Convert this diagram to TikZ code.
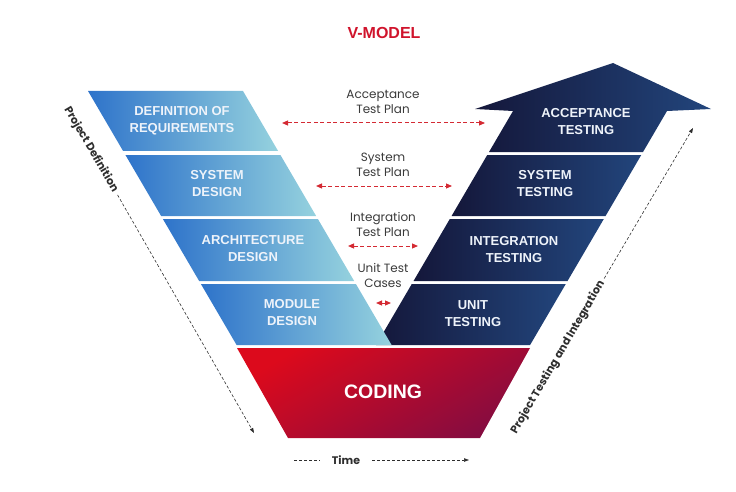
\documentclass[tikz,border=0pt]{standalone}
\usepackage{fontspec}
\setmainfont{Liberation Sans}
\newfontfamily\popfont{Poppins}
\usetikzlibrary{arrows.meta}

\definecolor{vred}{HTML}{D0142C}
\definecolor{planred}{HTML}{D42A33}
\definecolor{plangray}{HTML}{3A3A3A}
\definecolor{phasegray}{HTML}{2E2E2E}
\definecolor{lblue}{HTML}{2E73CA}
\definecolor{lmid}{HTML}{4092D8}
\definecolor{llight}{HTML}{95D2DE}
\definecolor{dnavy}{HTML}{14173A}
\definecolor{dmid}{HTML}{1A2957}
\definecolor{dblue}{HTML}{22457C}
\definecolor{cred}{HTML}{DC0A1C}
\definecolor{ccrim}{HTML}{860C40}
\definecolor{bandwhite}{HTML}{EEF3FA}

\tikzset{
	lightband/.style={left color=lblue, middle color=lmid, right color=llight},
	darkband/.style={left color=dnavy, middle color=dmid, right color=dblue},
	codeblock/.style={top color=cred, middle color=cred!85!ccrim, bottom color=ccrim, shading angle=30},
	band text/.style={text=bandwhite, font=\bfseries\fontsize{13}{17}\selectfont, align=center, inner sep=0pt},
	plan text/.style={text=plangray, font=\popfont\fontsize{12}{15}\selectfont, align=center, inner sep=0pt},
	plan arrow/.style={draw=planred, line width=1pt, dash pattern=on 4pt off 2.5pt, {Triangle[length=6pt,width=5pt]}-{Triangle[length=6pt,width=5pt]}},
	phase text/.style={text=phasegray, font=\popfont\bfseries\fontsize{11}{13}\selectfont, inner xsep=4pt},
	phase line/.style={draw=phasegray, line width=0.6pt, dash pattern=on 3pt off 2pt},
	phase arrow/.style={phase line, -{Triangle[length=5pt,width=3.5pt]}},
}

\begin{document}
\begin{tikzpicture}[x=1pt, y=-1pt]
	\useasboundingbox (0,0) rectangle (736,492);

	\shade[darkband] (489,152) -- (513,111) -- (475,109) -- (613,63) -- (711,109) -- (667,111) -- (643,152) -- cycle;
	\foreach \t/\b in {155/216, 219/281, 284/345}
		\shade[darkband] ({489-0.585*(\t-152)},\t) -- ({643-0.585*(\t-152)},\t) -- ({643-0.585*(\b-152)},\b) -- ({489-0.585*(\b-152)},\b) -- cycle;

	\foreach \t/\b in {91/151, 155/216, 219/281, 284/345}
		\shade[lightband] ({88+0.585*(\t-91)},\t) -- ({243+0.585*(\t-91)},\t) -- ({243+0.585*(\b-91)},\b) -- ({88+0.585*(\b-91)},\b) -- cycle;

	\shade[codeblock] (237,348) -- (530,348) -- (480,438) -- (288,438) -- cycle;

	\node[text=vred, font=\bfseries\fontsize{16}{18}\selectfont] (title) at (384,33) {V-MODEL};

	\node[band text] (req) at (182,121) {DEFINITION OF\\REQUIREMENTS};
	\node[band text] (sysd) at (217,184) {SYSTEM\\DESIGN};
	\node[band text] (arch) at (253,249) {ARCHITECTURE\\DESIGN};
	\node[band text] (mod) at (292,313) {MODULE\\DESIGN};

	\node[band text] (acc) at (586,121.5) {ACCEPTANCE\\TESTING};
	\node[band text] (syst) at (545,184) {SYSTEM\\TESTING};
	\node[band text] (integ) at (514,249.5) {INTEGRATION\\TESTING};
	\node[band text] (unit) at (473,313.5) {UNIT\\TESTING};

	\node[band text, text=white, font=\bfseries\fontsize{19.5}{22}\selectfont] (coding) at (383,392) {CODING};

	\node[plan text] (accplan) at (383,101.5) {Acceptance\\Test Plan};
	\node[plan text] (sysplan) at (383,164.5) {System\\Test Plan};
	\node[plan text] (intplan) at (383,224.5) {Integration\\Test Plan};
	\node[plan text] (unitplan) at (383,275.5) {Unit Test\\Cases};

	\coordinate (accL) at (282,123);
	\coordinate (accR) at (485,123);
	\coordinate (sysL) at (316,186);
	\coordinate (sysR) at (452,186);
	\coordinate (intL) at (348,246);
	\coordinate (intR) at (418,246);
	\coordinate (unitL) at (376,303);
	\coordinate (unitR) at (391,303);
	\draw[plan arrow] (accL) -- (accR);
	\draw[plan arrow] (sysL) -- (sysR);
	\draw[plan arrow] (intL) -- (intR);
	\draw[plan arrow] (unitL) -- (unitR);

	\node[phase text, rotate=-59.7] (pdef) at (91,149.5) {Project Definition};
	\coordinate (pdefend) at (254,433);
	\draw[phase arrow] (pdef.east) -- (pdefend);

	\node[phase text, rotate=59.7] (ptest) at (558,357.5) {Project Testing and Integration};
	\coordinate (ptestend) at (693,128);
	\draw[phase arrow] (ptest.east) -- (ptestend);

	\node[phase text, inner xsep=12pt] (time) at (346,460) {Time};
	\coordinate (t0) at (294,460);
	\coordinate (t1) at (469,460);
	\draw[phase line] (t0) -- (time.west);
	\draw[phase arrow] (time.east) -- (t1);
\end{tikzpicture}
\end{document}
